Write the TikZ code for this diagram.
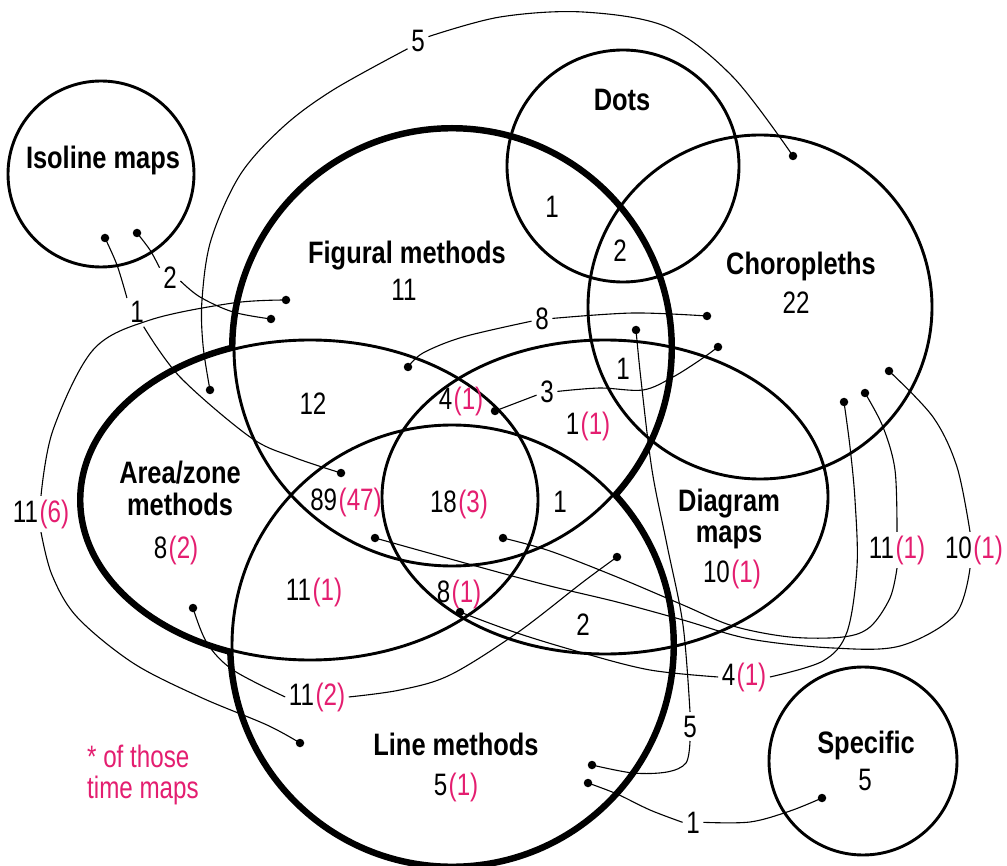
\documentclass[tikz,border=0pt]{standalone}
\usepackage{fontspec}
\newfontfamily\regf[FakeStretch=0.78]{Liberation Sans}
\newfontfamily\boldf[FakeStretch=0.82]{Liberation Sans}
\definecolor{pinkc}{RGB}{228,30,112}
\newcommand{\pkn}[1]{\kern1.5pt\textcolor{pinkc}{(#1)}}
\begin{document}
\begin{tikzpicture}[x=1pt,y=-1pt,
  outl/.style={line width=2.9pt},
  thickunion/.style={line width=10pt},
  conn/.style={line width=1.1pt},
  dotc/.style={circle,fill=black,inner sep=0pt,minimum size=8.5pt},
  bl/.style={font=\boldf\bfseries\fontsize{31}{34}\selectfont, anchor=base, inner sep=0pt, align=center},
  reg/.style={font=\regf\fontsize{31}{34}\selectfont, anchor=base, inner sep=0pt},
  num/.style={font=\regf\fontsize{31}{34}\selectfont, anchor=base, inner sep=3.5pt},
  sm/.style={smooth,tension=0.55}
]
\useasboundingbox (0,0) rectangle (1007,866);
\fill[white] (0,0) rectangle (1007,866);

% union boundary of Figural, Area/zone and Line methods (thick)
\draw[thickunion] (452,348) circle[radius=218pt];
\draw[thickunion] (452,645) circle[radius=220pt];
\draw[thickunion] (310,500) ellipse[x radius=228pt, y radius=160pt];
\fill[white] (452,348) circle[radius=218pt];
\fill[white] (452,645) circle[radius=220pt];
\fill[white] (310,500) ellipse[x radius=228pt, y radius=160pt];

% outlines
\draw[outl] (452,348) circle[radius=218pt];
\draw[outl] (452,645) circle[radius=220pt];
\draw[outl] (310,500) ellipse[x radius=228pt, y radius=160pt];
\draw[outl] (605,497) ellipse[x radius=223pt, y radius=157pt];
\draw[outl] (101,174) circle[radius=93pt];
\draw[outl] (623,166) circle[radius=116pt];
\draw[outl] (760,307) circle[radius=172pt];
\draw[outl] (863,761) circle[radius=94pt];

% category labels
\node[bl] (tIso) at (103,169) {Isoline maps};
\node[bl] (tDots) at (622,111) {Dots};
\node[bl] (tFig) at (407,264) {Figural methods};
\node[bl] (tCho) at (801,275) {Choropleths};
\node[bl] (tArea) at (180,483) {Area/zone};
\node[bl] (tArea2) at (180,515) {methods};
\node[bl] (tDia) at (729,511) {Diagram};
\node[bl] (tDia2) at (729,542) {maps};
\node[bl] (tLine) at (456,755) {Line methods};
\node[bl] (tSpec) at (866,753) {Specific};

% region counts
\node[reg] (rFig) at (404,301) {11};
\node[reg] (rDots) at (552,218) {1};
\node[reg] (rDC) at (620,262) {2};
\node[reg] (rCho) at (796,314) {22};
\node[reg] (rCFD) at (623,380) {1};
\node[reg] (rFD) at (588,435) {1\pkn{1}};
\node[reg] (rFA) at (313,415) {12};
\node[reg] (rFAD) at (461,410) {4\pkn{1}};
\node[reg] (rFAL) at (346,510) {89\pkn{47}};
\node[reg] (rAll) at (459,512) {18\pkn{3}};
\node[reg] (rFLD) at (560,512) {1};
\node[reg] (rArea) at (176,558) {8\pkn{2}};
\node[reg] (rAL) at (314,600) {11\pkn{1}};
\node[reg] (rALD) at (459,602) {8\pkn{1}};
\node[reg] (rLD) at (583,635) {2};
\node[reg] (rDia) at (732,582) {10\pkn{1}};
\node[reg] (rLine) at (456,795) {5\pkn{1}};
\node[reg] (rSpec) at (865,790) {5};
\node[reg, anchor=base west, text=pinkc] (note) at (87,767) {* of those};
\node[reg, anchor=base west, text=pinkc] (note2) at (87,798) {time maps};

% connector labels
\node[num] (cA) at (418,52) {5};
\node[num] (cB) at (137,323) {1};
\node[num] (cC) at (170,289) {2};
\node[num] (cD) at (41,522) {11\pkn{6}};
\node[num] (cE) at (542,330) {8};
\node[num] (cF) at (547,403) {3};
\node[num] (cG) at (897,558) {11\pkn{1}};
\node[num] (cH) at (974,558) {10\pkn{1}};
\node[num] (cI) at (744,685) {4\pkn{1}};
\node[num] (cJ) at (690,737) {5};
\node[num] (cK) at (693,833) {1};
\node[num] (cL) at (317,705) {11\pkn{2}};

% dots
\node[dotc] (dA1) at (210,390) {};
\node[dotc] (dA2) at (793,156) {};
\node[dotc] (dB1) at (105,238) {};
\node[dotc] (dB2) at (341,473) {};
\node[dotc] (dC1) at (137,233) {};
\node[dotc] (dC2) at (271,319) {};
\node[dotc] (dD1) at (286,300) {};
\node[dotc] (dD2) at (300,743) {};
\node[dotc] (dE1) at (408,367) {};
\node[dotc] (dE2) at (707,316) {};
\node[dotc] (dF1) at (495,411) {};
\node[dotc] (dF2) at (718,347) {};
\node[dotc] (dG1) at (503,538) {};
\node[dotc] (dG2) at (865,393) {};
\node[dotc] (dH1) at (375,538) {};
\node[dotc] (dH2) at (889,371) {};
\node[dotc] (dI1) at (460,612) {};
\node[dotc] (dI2) at (844,402) {};
\node[dotc] (dJ1) at (636,330) {};
\node[dotc] (dJ2) at (592,765) {};
\node[dotc] (dK1) at (588,783) {};
\node[dotc] (dK2) at (822,798) {};
\node[dotc] (dL1) at (193,608) {};
\node[dotc] (dL2) at (617,557) {};

% connectors
\draw[conn] plot[sm] coordinates {(dA1) (203,345) (202,300) (211,240) (240,175) (283,127) (333,90) (cA.215)};
\draw[conn] plot[sm] coordinates {(cA.25) (500,17) (583,12) (667,27) (733,77) (dA2)};
\draw[conn] plot[sm] coordinates {(dB1) (117,265) (cB.125)};
\draw[conn] plot[sm] coordinates {(cB.-65) (180,377) (250,437) (293,457) (dB2)};
\draw[conn] plot[sm] coordinates {(dC1) (150,250) (cC.135)};
\draw[conn] plot[sm] coordinates {(cC.-15) (200,297) (233,312) (dC2)};
\draw[conn] plot[sm] coordinates {(cD.north) (53,430) (93,350) (150,320) (233,303) (dD1)};
\draw[conn] plot[sm] coordinates {(cD.south) (52,575) (77,617) (133,663) (200,697) (267,725) (dD2)};
\draw[conn] plot[sm] coordinates {(dE1) (423,353) (463,337) (cE.190)};
\draw[conn] plot[sm] coordinates {(cE.5) (633,313) (dE2)};
\draw[conn] plot[sm] coordinates {(dF1) (cF.195)};
\draw[conn] plot[sm] coordinates {(cF.5) (600,388) (643,390) (673,377) (700,360) (dF2)};
\draw[conn] plot[sm] coordinates {(dG2) (883,427) (895,470) (cG.north)};
\draw[conn] plot[sm] coordinates {(cG.south) (890,598) (870,627) (843,637) (790,637) (733,626) (683,605) (617,577) (550,551) (dG1)};
\draw[conn] plot[sm] coordinates {(dH2) (933,417) (957,467) ([xshift=-4pt]cH.north)};
\draw[conn] plot[sm] coordinates {([xshift=-4pt]cH.south) (955,615) (900,646) (833,648) (750,639) (683,620) (617,602) (550,586) (483,568) (dH1)};
\draw[conn] plot[sm] coordinates {(dI1) (517,633) (583,653) (650,670) (cI.west)};
\draw[conn] plot[sm] coordinates {(cI.east) (823,661) (847,632) (857,567) (855,500) (850,447) (dI2)};
\draw[conn] plot[sm] coordinates {(dJ1) (641,380) (652,470) (667,545) (683,625) (cJ.north)};
\draw[conn] plot[sm] coordinates {(cJ.south) (686,763) (667,772) (633,773) (dJ2)};
\draw[conn] plot[sm] coordinates {(dK1) (617,794) (650,810) (cK.west)};
\draw[conn] plot[sm] coordinates {(cK.east) (750,822) (790,811) (dK2)};
\draw[conn] plot[sm] coordinates {(dL1) (207,643) (233,670) (cL.west)};
\draw[conn] plot[sm] coordinates {(cL.east) (400,690) (450,675) (517,633) (583,582) (dL2)};
\end{tikzpicture}
\end{document}
